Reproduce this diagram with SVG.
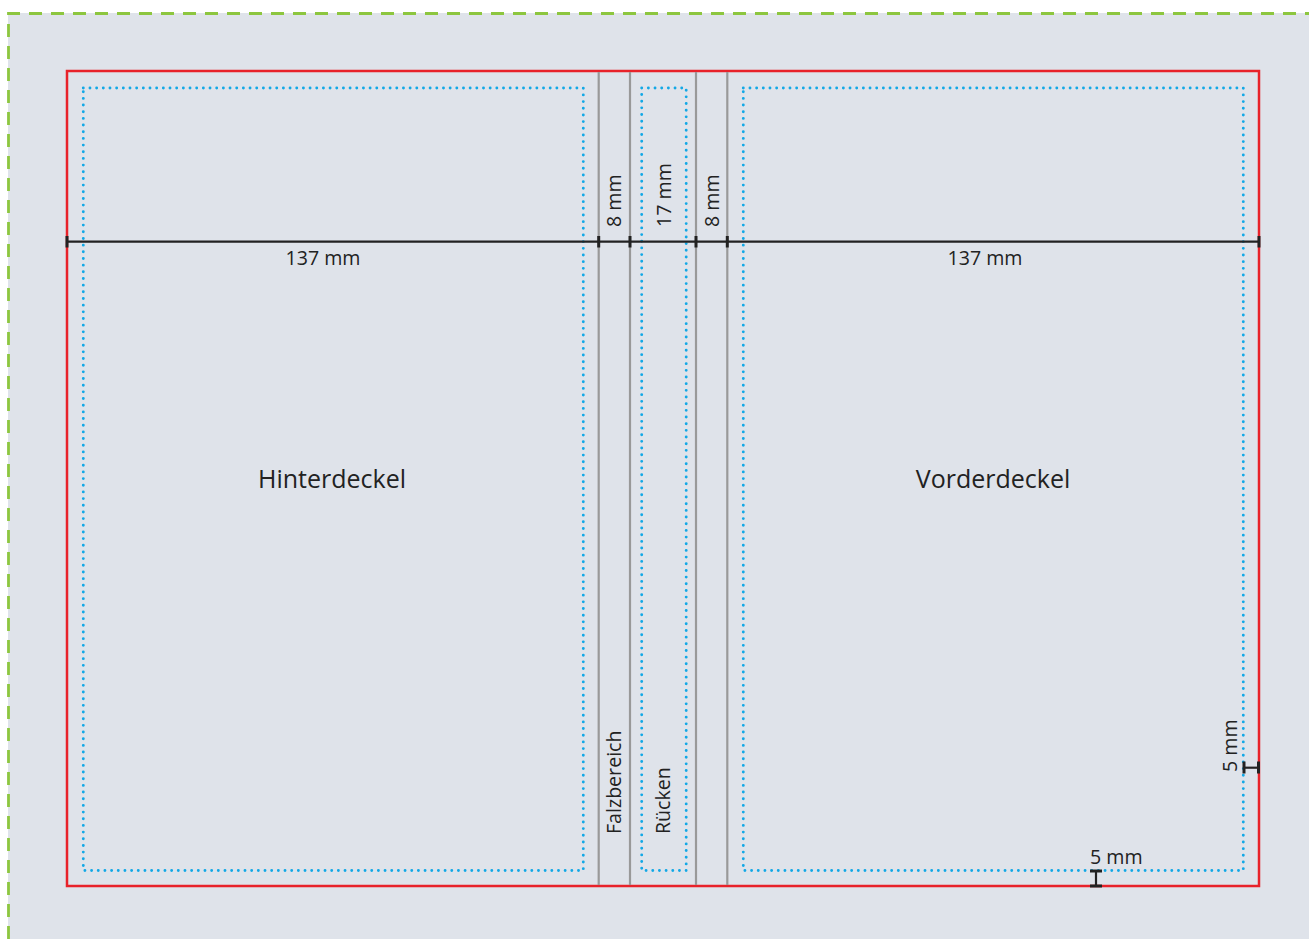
<svg xmlns="http://www.w3.org/2000/svg" width="1309" height="939" viewBox="0 0 1309 939">
<style>
.t{font-family:"Open Sans","Noto Sans","Liberation Sans",sans-serif;fill:#222;}
.s{font-size:19.6px;}
.l{font-size:25px;}
.dot{fill:none;stroke:#12a8e6;stroke-width:2.9;stroke-dasharray:0 6.67;stroke-linecap:round;}
.fold{stroke:#999;stroke-width:2.2;}
.dim{stroke:#222;stroke-width:2.2;fill:none;}
.tick{stroke:#222;stroke-width:3;}
</style>
<rect x="0" y="0" width="1309" height="939" fill="#ffffff"/>
<rect x="8" y="13" width="1301" height="926" fill="#dfe3ea"/>
<path d="M8.5 939 V13.5 H1309" fill="none" stroke="#8dc63f" stroke-width="2.8" stroke-dasharray="13 9"/>
<g id="cover">
<rect x="67" y="71" width="1192" height="815" fill="none" stroke="#e8222a" stroke-width="2.5"/>
</g>
<g id="folds">
<line class="fold" x1="598.7" y1="72" x2="598.7" y2="885"/>
<line class="fold" x1="630" y1="72" x2="630" y2="885"/>
<line class="fold" x1="696" y1="72" x2="696" y2="885"/>
<line class="fold" x1="727.3" y1="72" x2="727.3" y2="885"/>
</g>
<g id="hinterdeckel">
<rect class="dot" x="83.3" y="88" width="500" height="782.5"/>
<text class="t l" x="332" y="488" text-anchor="middle">Hinterdeckel</text>
</g>
<g id="ruecken">
<rect class="dot" x="641.7" y="88" width="44.5" height="782.5"/>
<text class="t s" transform="translate(670,834) rotate(-90)">Rücken</text>
</g>
<g id="falzbereich">
<text class="t s" transform="translate(621,834) rotate(-90)">Falzbereich</text>
</g>
<g id="vorderdeckel">
<rect class="dot" x="743.3" y="88" width="500" height="782.5"/>
<text class="t l" x="993" y="488" text-anchor="middle">Vorderdeckel</text>
</g>
<g id="connectors">
<line class="dim" x1="67" y1="241.7" x2="1259" y2="241.7"/>
<line class="tick" x1="67" y1="236" x2="67" y2="247.5"/>
<line class="tick" x1="598.7" y1="236" x2="598.7" y2="247.5"/>
<line class="tick" x1="630" y1="236" x2="630" y2="247.5"/>
<line class="tick" x1="696" y1="236" x2="696" y2="247.5"/>
<line class="tick" x1="727.3" y1="236" x2="727.3" y2="247.5"/>
<line class="tick" x1="1259" y1="236" x2="1259" y2="247.5"/>
<line class="dim" x1="1243.5" y1="767.7" x2="1259" y2="767.7"/>
<line class="tick" x1="1244" y1="761.5" x2="1244" y2="773.5"/>
<line class="tick" x1="1258.5" y1="761.5" x2="1258.5" y2="773.5"/>
<line class="dim" x1="1096" y1="871" x2="1096" y2="886"/>
<line class="tick" x1="1090" y1="871" x2="1102" y2="871"/>
<line class="tick" x1="1090" y1="886" x2="1102" y2="886"/>
</g>
<g id="labels">
<text class="t s" x="323" y="265" text-anchor="middle">137 mm</text>
<text class="t s" x="985" y="265" text-anchor="middle">137 mm</text>
<text class="t s" transform="translate(621,227) rotate(-90)">8 mm</text>
<text class="t s" transform="translate(671,227) rotate(-90)">17 mm</text>
<text class="t s" transform="translate(719,227) rotate(-90)">8 mm</text>
<text class="t s" transform="translate(1237,772) rotate(-90)">5 mm</text>
<text class="t s" x="1090" y="864">5 mm</text>
</g>
</svg>
